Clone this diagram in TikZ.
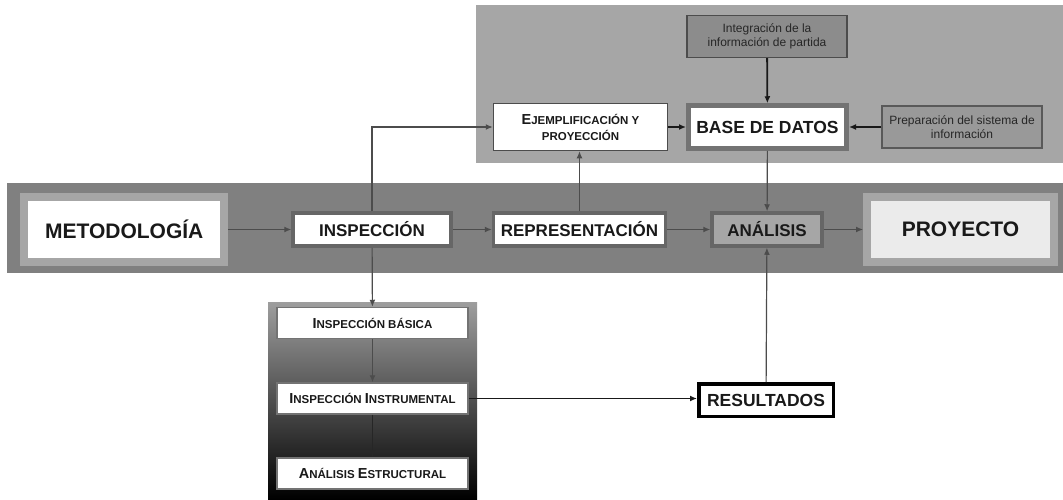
\documentclass[tikz,border=0pt]{standalone}
\usepackage{fontspec}
\setmainfont{Liberation Sans}
\usetikzlibrary{arrows.meta}

\newcommand{\bigletter}[1]{{\fontsize{14.5}{16}\selectfont #1}}

\begin{document}
\begin{tikzpicture}[x=1pt,y=-1pt,>={Latex[length=7pt,width=6pt]},
    row node/.style={draw=black!60,line width=3.5pt,fill=white,text=black!90,
      font=\fontsize{17}{20}\selectfont\bfseries,inner sep=0pt,minimum height=33pt},
    big node/.style={draw=black!35,line width=8pt,text=black!90,
      font=\fontsize{21}{24}\selectfont\bfseries,inner sep=0pt,minimum height=65pt},
    info node/.style={draw=black!70,line width=1.2pt,align=center,text=black!85,
      font=\fontsize{12}{14}\selectfont,inner sep=0pt,minimum width=160pt,minimum height=42pt},
    sc node/.style={draw=black!55,line width=1.5pt,fill=white,align=center,text=black!90,
      font=\fontsize{11.5}{16}\selectfont\bfseries,inner sep=0pt,minimum width=191pt,minimum height=31pt},
    link/.style={->,draw=black!70,line width=1.2pt},
    strong link/.style={->,draw=black!90,line width=1.8pt}]

  % background panels
  \fill[white] (0,0) rectangle (1063,499);
  \useasboundingbox (0,0) rectangle (1063,499);
  \fill[black!35] (476,5) rectangle (1063,163);
  \fill[black!50] (7,183) rectangle (1063,273);
  \shade[top color=black!38,bottom color=black] (268,302) rectangle (477,499);

  % main row
  \node[big node,fill=white,minimum width=200pt] (met) at (124.25,229.5) {METODOLOGÍA};
  \node[row node,minimum width=158pt] (insp) [node distance=247.75pt,right of=met] {INSPECCIÓN};
  \node[row node,minimum width=172pt] (repr) [node distance=207.5pt,right of=insp] {REPRESENTACIÓN};
  \node[row node,fill=black!35,minimum width=110pt] (ana) [node distance=187.5pt,right of=repr] {ANÁLISIS};
  \node[big node,fill=black!8,minimum width=187pt] (proy) [node distance=193.5pt,right of=ana] {PROYECTO};

  % data panel
  \node[info node,fill=black!45] (integ) at (767,36.5) {Integración de la\\información de partida};
  \node[draw=black!55,line width=5pt,fill=white,text=black!90,font=\fontsize{17.5}{20}\selectfont\bfseries,
    inner sep=0pt,minimum width=158pt,minimum height=42.5pt] (base) at (767.5,127) {BASE DE DATOS};
  \node[sc node,draw=black!70,minimum width=174pt,minimum height=47pt] (ejem) at (580.5,127)
    {\bigletter{E}JEMPLIFICACIÓN Y\\PROYECCIÓN};
  \node[info node,fill=black!40,draw=black!65] (prep) at (962,127) {Preparación del sistema de\\información};

  % inspection steps
  \node[sc node] (basic) at (372.5,323) {\bigletter{I}NSPECCIÓN BÁSICA};
  \node[sc node] (instr) [node distance=75.5pt,below of=basic] {\bigletter{I}NSPECCIÓN \bigletter{I}NSTRUMENTAL};
  \node[sc node] (estr) [node distance=75pt,below of=instr] {\bigletter{A}NÁLISIS \bigletter{E}STRUCTURAL};

  \node[draw=black,line width=3.5pt,fill=white,text=black!90,font=\fontsize{17.5}{20}\selectfont\bfseries,
    inner sep=0pt,minimum width=134.5pt,minimum height=32.5pt] (res) at (766,400) {RESULTADOS};

  % connectors
  \draw[link] (met) -- (insp);
  \draw[link] (insp) -- (repr);
  \draw[link] (repr) -- (ana);
  \draw[link] (ana) -- (proy);
  \draw[link] (insp.north) |- (ejem.west);
  \draw[link] (repr.north) -- (repr.north |- ejem.south);
  \draw[strong link] (ejem) -- (base);
  \draw[strong link] (integ) -- (base);
  \draw[strong link] (prep) -- (base);
  \draw[link] (base) -- (ana);
  \draw[link] (insp) -- (basic);
  \draw[link] (basic) -- (instr);
  \draw[link,draw=black!85] (instr) -- (estr);
  \draw[strong link] (instr) -- (res.west |- instr);
  \draw[link] (res) -- (ana);
\end{tikzpicture}
\end{document}
